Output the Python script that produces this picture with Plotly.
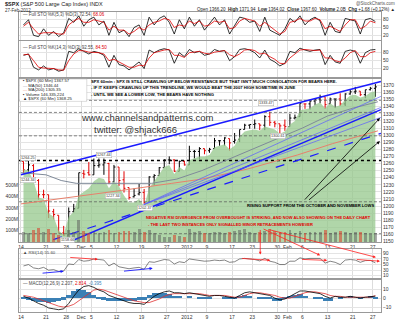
import plotly.graph_objects as go

W, H = 400, 323

# ---------------- data ----------------
tick_days = [0, 5, 9, 12, 14, 19, 24, 29, 33, 37, 42, 46, 51, 53, 56, 61, 66, 70]
tick_text = ["14", "21", "28", "Dec", "5", "12", "19", "27", "2012", "9", "17", "23", "30", "Feb", "6", "13", "21", "27"]

opens = [1263, 1251, 1257, 1236, 1216, 1216, 1192, 1187, 1162, 1159, 1192, 1197, 1246, 1247, 1244, 1257, 1258, 1260,
         1234, 1255, 1237, 1226, 1213, 1217, 1219, 1206, 1241, 1243, 1254, 1265, 1265, 1249, 1263, 1258, 1277, 1277,
         1281, 1278, 1281, 1292, 1292, 1295, 1291, 1294, 1308, 1314, 1315, 1316, 1314, 1326, 1318, 1316, 1314, 1312,
         1324, 1326, 1344, 1344, 1348, 1351, 1354, 1344, 1351, 1351, 1344, 1358, 1361, 1362, 1357, 1364, 1366]
highs = [1263, 1264, 1259, 1238, 1223, 1216, 1196, 1187, 1172, 1198, 1203, 1247, 1251, 1262, 1267, 1267, 1267, 1261,
         1258, 1255, 1249, 1226, 1225, 1231, 1224, 1242, 1245, 1255, 1266, 1270, 1266, 1264, 1264, 1285, 1279, 1283,
         1281, 1282, 1296, 1293, 1297, 1295, 1303, 1308, 1316, 1315, 1322, 1316, 1328, 1333, 1320, 1316, 1322, 1330,
         1329, 1345, 1344, 1349, 1351, 1357, 1354, 1353, 1351, 1359, 1359, 1364, 1368, 1362, 1364, 1368, 1372]
lows = [1246, 1245, 1236, 1209, 1211, 1183, 1181, 1161, 1158, 1159, 1191, 1197, 1239, 1243, 1244, 1254, 1244, 1231,
        1234, 1228, 1219, 1209, 1212, 1215, 1203, 1206, 1229, 1243, 1254, 1259, 1248, 1249, 1257, 1258, 1267, 1266,
        1273, 1275, 1281, 1285, 1285, 1278, 1288, 1290, 1308, 1309, 1309, 1307, 1307, 1313, 1311, 1300, 1306, 1312,
        1322, 1326, 1337, 1336, 1342, 1345, 1337, 1344, 1338, 1341, 1341, 1357, 1358, 1355, 1352, 1363, 1354]
closes = [1251, 1258, 1237, 1216, 1216, 1193, 1188, 1162, 1159, 1192, 1196, 1247, 1245, 1244, 1257, 1258, 1261, 1234,
          1255, 1236, 1225, 1212, 1215, 1219, 1205, 1241, 1243, 1254, 1265, 1265, 1249, 1263, 1258, 1277, 1277, 1281,
          1278, 1280, 1292, 1292, 1296, 1289, 1293, 1308, 1314, 1315, 1316, 1314, 1326, 1318, 1316, 1313, 1312, 1324,
          1325, 1345, 1344, 1348, 1351, 1354, 1343, 1351, 1351, 1344, 1358, 1361, 1362, 1357, 1364, 1366, 1368]
area_vals = [1252, 1250, 1235, 1212, 1210, 1190, 1185, 1165, 1160, 1185, 1192, 1215, 1220, 1225, 1235, 1240, 1238, 1225,
             1235, 1228, 1215, 1205, 1205, 1210, 1200, 1225, 1235, 1245, 1255, 1258, 1245, 1255, 1250, 1265, 1268, 1270,
             1270, 1272, 1283, 1285, 1287, 1280, 1285, 1298, 1305, 1307, 1308, 1306, 1312, 1310, 1308, 1302, 1305, 1315,
             1320, 1335, 1337, 1338, 1343, 1346, 1338, 1345, 1340, 1342, 1350, 1356, 1357, 1353, 1355, 1360, 1362]
volume_m = [90, 80, 110, 130, 95, 120, 85, 70, 40, 110, 90, 200, 100, 85, 90, 80, 95, 110, 80, 95, 100, 105, 90, 120,
            95, 110, 80, 70, 50, 45, 70, 55, 50, 120, 95, 100, 85, 80, 95, 90, 85, 95, 100, 110, 120, 90, 85, 90, 105,
            120, 100, 90, 95, 110, 85, 100, 80, 90, 95, 90, 110, 85, 95, 105, 90, 80, 95, 90, 85, 75, 80]

ma50_days = [0, 5, 8, 11, 15, 20, 26, 31, 36, 41, 46, 51, 56, 61, 66, 71]
ma50_vals = [1247, 1244, 1236, 1232, 1232, 1232, 1232, 1238, 1250, 1265, 1280, 1295, 1310, 1327, 1338, 1347]
ma200_days = [0, 10, 20, 30, 36, 45, 55, 62, 71]
ma200_vals = [1203, 1212, 1222, 1232, 1238, 1252, 1272, 1288, 1306]

sto1_k = [60, 80, 20, 15, 45, 20, 35, 15, 30, 85, 70, 95, 55, 80, 90, 60, 75, 20, 70, 30, 40, 15, 50, 60, 20, 90, 60,
          85, 95, 70, 25, 80, 45, 90, 55, 80, 40, 65, 90, 60, 80, 25, 55, 90, 85, 70, 75, 35, 90, 40, 30, 20, 45, 85,
          70, 95, 60, 80, 90, 75, 20, 70, 35, 30, 85, 80, 75, 25, 80, 85, 73]
sto1_d = [55, 70, 45, 25, 30, 30, 30, 25, 25, 60, 75, 85, 70, 70, 80, 75, 70, 40, 55, 40, 40, 25, 35, 50, 40, 60, 70,
          75, 85, 80, 50, 60, 55, 75, 65, 75, 55, 60, 75, 70, 75, 45, 50, 75, 85, 80, 75, 55, 70, 55, 40, 25, 35, 70,
          75, 85, 75, 75, 85, 80, 45, 55, 45, 35, 60, 80, 80, 45, 55, 75, 68]
sto2_k = [70, 75, 25, 15, 30, 15, 20, 10, 15, 85, 80, 95, 85, 75, 85, 80, 70, 25, 70, 35, 30, 15, 30, 45, 20, 90, 80,
          90, 95, 90, 40, 80, 65, 92, 80, 85, 70, 75, 92, 85, 88, 50, 65, 92, 95, 90, 80, 60, 90, 55, 45, 30, 40, 85,
          80, 97, 90, 85, 90, 92, 35, 70, 45, 40, 85, 90, 85, 40, 80, 90, 92]
sto2_d = [72, 74, 50, 25, 22, 20, 20, 15, 14, 50, 75, 88, 87, 82, 80, 80, 75, 50, 55, 45, 35, 25, 25, 33, 30, 60, 80,
          85, 90, 92, 70, 70, 62, 80, 82, 85, 78, 75, 82, 85, 88, 72, 65, 75, 90, 92, 88, 75, 78, 65, 55, 40, 38, 60,
          75, 90, 92, 90, 88, 90, 60, 60, 50, 45, 60, 80, 88, 65, 65, 80, 85]
rsi_vals = [45, 50, 38, 35, 40, 30, 32, 25, 27, 52, 50, 68, 62, 64, 70, 69, 66, 45, 55, 42, 38, 35, 38, 40, 33, 60, 58,
            64, 68, 66, 52, 60, 57, 70, 68, 66, 62, 63, 66, 64, 66, 58, 60, 70, 72, 70, 68, 63, 72, 62, 58, 50, 50, 62,
            62, 74, 70, 72, 72, 72, 55, 62, 58, 50, 66, 68, 66, 58, 64, 65, 56]
macd_vals = [2, 0, -3, -6, -8, -11, -12, -13, -12, -6, 2, 9, 13, 14, 12, 9, 7, 3, 1, -1, -3, -5, -6, -6, -7, -2, 2, 5,
             7, 8, 6, 6, 5, 6, 5, 4, 3, 2, 3, 3, 2, 1, 0, 3, 6, 7, 6, 5, 4, 3, 0, -2, -1, 2, 5, 8, 8, 7, 6, 5, 2, 0, 2,
             1, 1, 2, 1, 0, 1, 2, 2.2]
signal_vals = [3, 2, 1, -1, -3, -5, -7, -9, -10, -9, -7, -3, 2, 6, 9, 10, 9, 7, 5, 3, 1, -1, -3, -4, -5, -5, -3, -1, 2,
               4, 5, 5, 5, 5, 5, 5, 4, 3, 3, 3, 3, 2, 1, 1, 3, 5, 6, 6, 5, 4, 3, 1, 0, 0, 2, 4, 6, 7, 7, 6, 5, 3, 2, 2,
               1, 1, 1, 1, 1, 1, 2.8]
hist_vals = [-1, -2, -4, -5, -5, -6, -5, -4, -2, 3, 8, 10, 9, 7, 3, -1, -2, -4, -4, -4, -4, -4, -3, -2, -2, 3, 5, 6, 5,
             4, 1, 1, 0, 1, 0, -1, -1, -1, 0, 0, -1, -1, -1, 2, 3, 2, 0, -1, -1, -1, -3, -3, -1, 2, 3, 4, 2, 0, -1, -1,
             -3, -3, 0, -1, 0, 1, 0, -1, 0, 1, -0.4]

# price labels on the chart (day, price, text)
price_label_days = [1.4, 1.4, 16.5, 18.3, 24.6, 9.2, 48.8, 51.2]
price_label_vals = [1267.5, 1237, 1271.5, 1214, 1197, 1151.5, 1345, 1298.5]
price_label_text = ["1264.25", "1244.34", "1267.44", "1227.34", "1202.37", "1158.66", "1333.47", "1300.61"]

# trendlines: (day, price) anchor pairs
blue_thick = [[(0, 1244), (71.6, 1375.6)], [(8.5, 1146), (71.6, 1336)]]
blue_dash = [[(-0.4, 1137), (71.6, 1302.5)]]
blue_thin = [[(24.4, 1202), (71.6, 1354.6)], [(24.4, 1202), (71.6, 1339)], [(24.4, 1202), (71.6, 1325)]]
dotted_level = 1264.25
dashed_levels = [1349, 1332, 1299, 1206, 1161]

# ---------------- helpers ----------------
def py(p):
    return 1 - p / H


def pxx(p):
    return p / W


bar_x = [d + 0.5 for d in range(len(closes))]
XDOM = [18 / W, 381 / W]
XR = [-0.4, 71.63]
FONT = "Liberation Sans, Arial, sans-serif"

fig = go.Figure()

# green area
fig.add_trace(go.Scatter(x=bar_x, y=area_vals, mode="lines", line=dict(width=0, color="rgba(0,0,0,0)"),
                         fill="tozeroy", fillcolor="rgba(150,200,140,0.75)", xaxis="x", yaxis="y",
                         hoverinfo="skip"))
# horizontal levels
for lv in dashed_levels:
    fig.add_trace(go.Scatter(x=XR, y=[lv, lv], mode="lines", line=dict(color="#555", width=0.7, dash="3px,2px"),
                             xaxis="x", yaxis="y"))
fig.add_trace(go.Scatter(x=XR, y=[dotted_level, dotted_level], mode="lines",
                         line=dict(color="#000", width=1.5, dash="dot"), xaxis="x", yaxis="y"))
# moving averages
fig.add_trace(go.Scatter(x=ma200_days, y=ma200_vals, mode="lines", line=dict(color="#e8806c", width=1),
                         xaxis="x", yaxis="y"))
fig.add_trace(go.Scatter(x=ma50_days, y=ma50_vals, mode="lines", line=dict(color="#7f8a99", width=1),
                         xaxis="x", yaxis="y"))
# trendlines
for seg in blue_thick:
    fig.add_trace(go.Scatter(x=[seg[0][0], seg[1][0]], y=[seg[0][1], seg[1][1]], mode="lines",
                             line=dict(color="#1a1aff", width=1.5), xaxis="x", yaxis="y"))
for seg in blue_dash:
    fig.add_trace(go.Scatter(x=[seg[0][0], seg[1][0]], y=[seg[0][1], seg[1][1]], mode="lines",
                             line=dict(color="#1a1aff", width=1.2, dash="dash"), xaxis="x", yaxis="y"))
for seg in blue_thin:
    fig.add_trace(go.Scatter(x=[seg[0][0], seg[1][0]], y=[seg[0][1], seg[1][1]], mode="lines",
                             line=dict(color="#5c5cff", width=0.7), xaxis="x", yaxis="y"))
# price bars
fig.add_trace(go.Ohlc(x=bar_x, open=opens, high=highs, low=lows, close=closes, xaxis="x", yaxis="y",
                      increasing=dict(line=dict(color="#000", width=1)),
                      decreasing=dict(line=dict(color="#e00000", width=1)), tickwidth=0.3))
# volume
vol_colors = ["rgba(90,90,90,0.5)"] + [
    ("rgba(215,70,50,0.6)" if closes[i] < closes[i - 1] else "rgba(90,90,90,0.5)") for i in range(1, len(closes))]
fig.add_trace(go.Bar(x=bar_x, y=volume_m, marker=dict(color=vol_colors, line=dict(width=0)), width=0.55,
                     xaxis="x", yaxis="y6"))

# stochastics
fig.add_trace(go.Scatter(x=bar_x, y=sto1_k, mode="lines", line=dict(color="#000", width=0.8), xaxis="x2", yaxis="y2"))
fig.add_trace(go.Scatter(x=bar_x, y=sto1_d, mode="lines", line=dict(color="#e00000", width=0.8), xaxis="x2", yaxis="y2"))
fig.add_trace(go.Scatter(x=bar_x, y=sto2_k, mode="lines", line=dict(color="#000", width=0.8), xaxis="x3", yaxis="y3"))
fig.add_trace(go.Scatter(x=bar_x, y=sto2_d, mode="lines", line=dict(color="#e00000", width=0.8), xaxis="x3", yaxis="y3"))
# RSI
fig.add_trace(go.Scatter(x=bar_x, y=rsi_vals, mode="lines", line=dict(color="#333", width=0.6), xaxis="x4", yaxis="y4"))
# MACD
fig.add_trace(go.Bar(x=bar_x, y=hist_vals, marker=dict(color="#3b80b5", line=dict(width=0)), width=1.0,
                     xaxis="x5", yaxis="y5"))
fig.add_trace(go.Scatter(x=bar_x, y=signal_vals, mode="lines", line=dict(color="#e03030", width=0.8), xaxis="x5", yaxis="y5"))
fig.add_trace(go.Scatter(x=bar_x, y=macd_vals, mode="lines", line=dict(color="#000", width=0.8), xaxis="x5", yaxis="y5"))

# ---------------- axes ----------------
xbase = dict(domain=XDOM, range=XR, tickvals=tick_days, ticktext=tick_text, showgrid=True, gridcolor="#dcdcdc",
             gridwidth=0.5, showline=True, linecolor="#999", linewidth=0.7, mirror=True, zeroline=False,
             ticks="", tickfont=dict(size=5, color="#333", family=FONT), rangeslider=dict(visible=False))
ybase = dict(side="right", showgrid=True, gridcolor="#e4e4e4", gridwidth=0.5, showline=True, linecolor="#999",
             linewidth=0.7, mirror=True, zeroline=False, ticks="", tickfont=dict(size=5, color="#333", family=FONT))

layout = dict(
    width=W, height=H, margin=dict(l=0, r=0, t=0, b=0), paper_bgcolor="white", plot_bgcolor="white",
    showlegend=False, bargap=0,
    xaxis=dict(xbase, anchor="y", ticklabelstandoff=0),
    xaxis2=dict(xbase, anchor="y2", matches="x", showticklabels=False),
    xaxis3=dict(xbase, anchor="y3", matches="x", showticklabels=False),
    xaxis4=dict(xbase, anchor="y4", matches="x", showticklabels=False),
    xaxis5=dict(xbase, anchor="y5", matches="x", ticklabelstandoff=0),
    yaxis=dict(ybase, domain=[py(243.5), py(79)], range=[1149.3, 1379.8], tickvals=list(range(1150, 1371, 10)),
               anchor="x"),
    yaxis6=dict(overlaying="y", side="left", range=[0, 1443], tickvals=[100, 200, 300, 400, 500],
                ticktext=["100M", "200M", "300M", "400M", "500M"], showgrid=False, zeroline=False, ticks="",
                tickfont=dict(size=5, color="#333", family=FONT), anchor="x"),
    yaxis2=dict(ybase, domain=[py(40), py(12)], range=[3, 110], tickvals=[20, 50, 80], anchor="x2"),
    yaxis3=dict(ybase, domain=[py(77), py(41)], range=[-10, 125], tickvals=[20, 50, 80], anchor="x3"),
    yaxis4=dict(ybase, domain=[py(280), py(251)], range=[1, 104], tickvals=[10, 30, 50, 70, 90], anchor="x4"),
    yaxis5=dict(ybase, domain=[py(314), py(282)], range=[-15.6, 20], tickvals=[-10, 0, 10], anchor="x5"),
)
fig.update_layout(**layout)

ann = []


def txt(x, y, s, size=5, color="#000", bold=False, anchor="left"):
    if bold:
        s = "<b>" + s + "</b>"
    ann.append(dict(x=pxx(x), y=py(y), xref="paper", yref="paper", text=s, showarrow=False, xanchor=anchor,
                    yanchor="middle", font=dict(size=size, color=color, family=FONT)))


# header
txt(2, 4, "<b>$SPX</b> (S&P 500 Large Cap Index) INDX", size=5.5, color="#222")
txt(2, 10.5, "27-Feb-2012", size=4.5, color="#333")
txt(397, 3.5, "@StockCharts.com", size=4.5, color="#555", anchor="right")
txt(397, 9.5, "Open 1366.20  <b>High</b> 1371.94  <b>Low</b> 1364.02  <b>Close</b> 1367.60  <b>Volume</b> 2.0B  "
              "<b>Chg</b> +1.68 (+0.12%) ▲", size=4.5, color="#222", anchor="right")
# panel titles
txt(20, 15, "— Full STO %K(5,3) %D(3) 72.54, <span style='color:#e00000'>68.06</span>", size=4.5, color="#444")
txt(20, 48, "— Full STO %K(14,3) %D(3) 92.55, <span style='color:#e00000'>84.50</span>", size=4.5, color="#444")
txt(20, 254, "▲ RSI(14) 55.60", size=4.3, color="#444")
txt(20, 285, "— MACD(12,26,9) 2.207, <span style='color:#e00000'>2.814</span>, "
             "<span style='color:#3b80b5'>-0.395</span>", size=4.5, color="#444")
# legend box
fig.add_shape(type="rect", xref="paper", yref="paper", x0=pxx(18.5), x1=pxx(86), y0=py(102), y1=py(79.5),
              fillcolor="white", line=dict(color="#bbb", width=0.5), layer="above")
txt(20, 81.5, "▪ $SPX (60 Min) 1367.57", size=4.2, color="#222")
txt(20, 86, "<span style='color:#7f8a99'>—</span> MA(50) 1346.44", size=4.2, color="#222")
txt(20, 90.5, "<span style='color:#e8806c'>—</span> MA(200) 1305.35", size=4.2, color="#222")
txt(20, 95, "▪ Volume 146,335,224", size=4.2, color="#222")
txt(20, 99.5, "▲ $SPX (60 Min) 1368.25", size=4.2, color="#222")
# commentary
txt(88, 82, "SPX 60min : SPX IS STILL CRAWLING UP BELOW RESISTANCE BUT THAT ISN'T MUCH CONSOLATION FOR BEARS HERE.",
    size=4.2, bold=True)
txt(88, 88.5, "- IF IT KEEPS CRAWLING UP THIS TRENDLINE, WE WOULD BEAT THE 2007 HIGH SOMETIME IN JUNE", size=4.2,
    bold=True)
txt(88, 95, "- UNTIL WE SEE A LOWER LOW, THE BEARS HAVE NOTHING", size=4.2, bold=True)
txt(147, 118, "www.channelsandpatterns.com", size=9.5, color="#333", anchor="center")
txt(135, 130, "twitter: @shjack666", size=9.5, color="#333", anchor="center")
txt(245, 207, "RISING SUPPORT FROM THE OCTOBER AND NOVEMBER LOWS", size=4.1, bold=True)
txt(143, 219, "NEGATIVE RSI DIVERGENCE FROM OVERBOUGHT IS STRIKING, AND NOW ALSO SHOWING ON THE DAILY CHART",
    size=4.05, color="#e00000", bold=True)
txt(145, 226, "- THE LAST TWO INSTANCES ONLY SIGNALLED MINOR RETRACEMENTS HOWEVER", size=4.05, color="#e00000",
    bold=True)

# small price labels
for d, v, t in zip(price_label_days, price_label_vals, price_label_text):
    ann.append(dict(x=d, y=v, xref="x", yref="y", text=t, showarrow=False, bgcolor="white",
                    bordercolor="#aaa", borderwidth=0.5, borderpad=0.5,
                    font=dict(size=3.8, color="#333", family=FONT)))

# black arrows (main panel, data coords)
for head, tail in [((71.4, 1324), (56.2, 1207)), ((71.4, 1291.5), (57.0, 1207))]:
    ann.append(dict(x=head[0], y=head[1], ax=tail[0], ay=tail[1], xref="x", yref="y", axref="x", ayref="y",
                    showarrow=True, arrowhead=2, arrowsize=0.8, arrowwidth=0.8, arrowcolor="#000", text=""))
# red divergence arrows (RSI panel, data coords)
for tail, head in [((9.5, 75.8), (15.3, 68.6)), ((43.7, 72.2), (49.6, 65)), ((55.6, 68.6), (60.9, 65)),
                   ((66.5, 68.6), (71.4, 62))]:
    ann.append(dict(x=head[0], y=head[1], ax=tail[0], ay=tail[1], xref="x4", yref="y4", axref="x4", ayref="y4",
                    showarrow=True, arrowhead=2, arrowsize=0.7, arrowwidth=0.8, arrowcolor="#ff2020", text=""))
for tail, head in [((4, 18.8), (8.5, 26)), ((20.2, 26), (26.2, 36.6))]:
    ann.append(dict(x=head[0], y=head[1], ax=tail[0], ay=tail[1], xref="x4", yref="y4", axref="x4", ayref="y4",
                    showarrow=True, arrowhead=2, arrowsize=0.7, arrowwidth=0.9, arrowcolor="#1a1aff", text=""))
# red arrows from comment to RSI panel
for head, off in [((47.6, 86), (0, -26)), ((59.5, 83), (-58, -27)), ((70.6, 76), (-108, -28))]:
    ann.append(dict(x=head[0], y=head[1], ax=off[0], ay=off[1], xref="x4", yref="y4", axref="pixel",
                    ayref="pixel", showarrow=True, arrowhead=2, arrowsize=0.7, arrowwidth=0.8, arrowcolor="#ff2020",
                    text=""))

fig.update_layout(annotations=ann)
fig.write_html("out.html")
